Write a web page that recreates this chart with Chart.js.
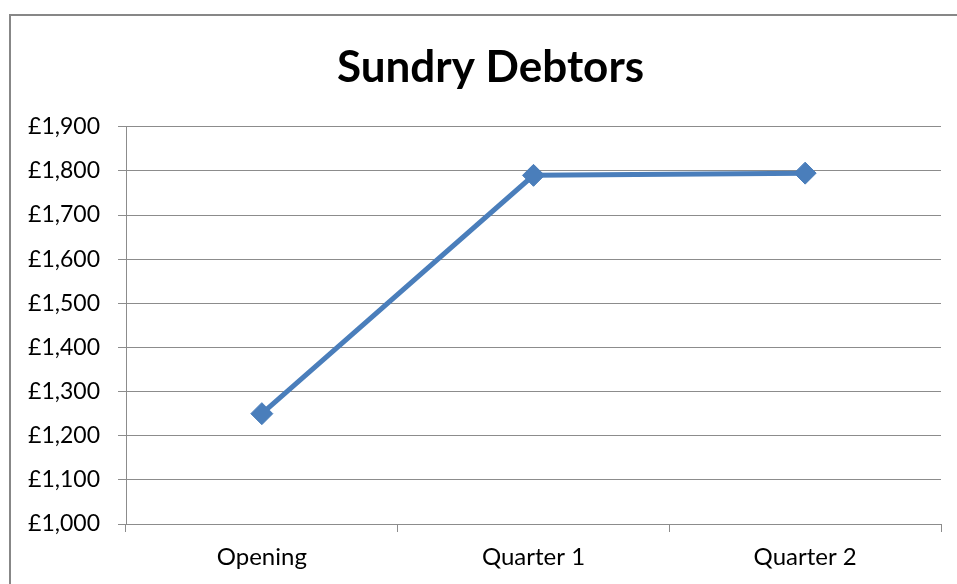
<!DOCTYPE html>
<html>
<head>
<meta charset="utf-8">
<title>Sundry Debtors</title>
<script src="https://cdn.jsdelivr.net/npm/chart.js@4"></script>
<style>
  html, body { margin: 0; padding: 0; background: #fff; }
  #wrap { width: 957px; height: 584px; position: relative; }
</style>
</head>
<body>
<div id="wrap"><canvas id="debtorsChart"></canvas></div>
<script>
  // chart data
  const categories = ['Opening', 'Quarter 1', 'Quarter 2'];
  const debtorValues = [1250, 1790, 1795];
  const axisMin = 1000;
  const axisMax = 1900;
  const axisStep = 100;

  const blue = '#4a7ebb';
  const gridGrey = '#8c8c8c';

  // outer frame, like the spreadsheet chart area border
  const framePlugin = {
    id: 'frame',
    beforeDraw(chart) {
      const ctx = chart.ctx;
      ctx.save();
      ctx.fillStyle = '#fff';
      ctx.fillRect(0, 0, chart.width, chart.height);
      ctx.strokeStyle = '#878787';
      ctx.lineWidth = 2;
      ctx.strokeRect(10, 15, chart.width + 20, chart.height + 20);
      ctx.restore();
    },
    // centre the title on the frame rather than on the whole canvas
    afterLayout(chart) {
      if (chart.titleBlock) chart.titleBlock.left = 40;
    }
  };

  const poundFormat = v => '£' + v.toLocaleString('en-GB');

  new Chart(document.getElementById('debtorsChart'), {
    type: 'line',
    data: {
      labels: categories,
      datasets: [{
        label: 'Sundry Debtors',
        data: debtorValues,
        borderColor: blue,
        backgroundColor: blue,
        borderWidth: 5,
        pointStyle: 'rectRot',
        pointRadius: 11,
        pointHoverRadius: 11,
        pointBackgroundColor: blue,
        pointBorderColor: blue,
        pointBorderWidth: 1,
        tension: 0
      }]
    },
    options: {
      responsive: true,
      maintainAspectRatio: false,
      animation: false,
      layout: { padding: { left: 0, right: 16, top: 0, bottom: 0 } },
      plugins: {
        legend: { display: false },
        tooltip: { enabled: false },
        title: {
          display: true,
          text: 'Sundry Debtors',
          color: '#000',
          font: { family: 'Lato', size: 44, weight: 'bold' },
          padding: { top: 41, bottom: 33 }
        }
      },
      scales: {
        x: {
          offset: true,
          grid: {
            offset: true,
            drawOnChartArea: false,
            color: gridGrey,
            tickLength: 8
          },
          border: { color: gridGrey },
          ticks: {
            color: '#000',
            padding: 11,
            font: { family: 'Lato', size: 24 }
          },
          afterFit(scale) { scale.height = 60; }
        },
        y: {
          min: axisMin,
          max: axisMax,
          grid: { color: gridGrey, tickLength: 8 },
          border: { color: gridGrey },
          ticks: {
            stepSize: axisStep,
            color: '#000',
            padding: 18,
            font: { family: 'Lato', size: 23 },
            callback: poundFormat
          },
          afterFit(scale) { scale.width = 126; }
        }
      }
    },
    plugins: [framePlugin]
  });
</script>
</body>
</html>
